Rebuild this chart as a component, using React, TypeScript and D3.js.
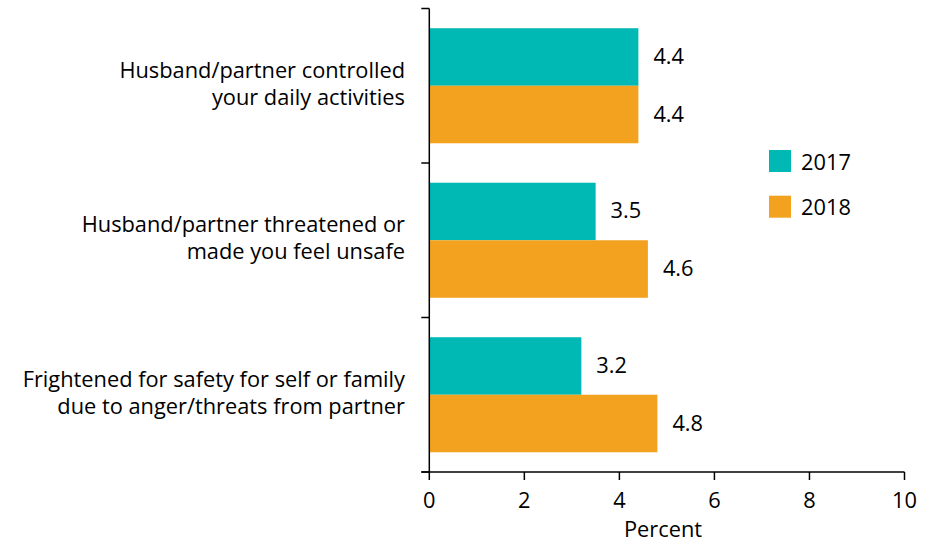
import React from "react";
import * as d3 from "d3";

const categories = [
  ["Husband/partner controlled", "your daily activities"],
  ["Husband/partner threatened or", "made you feel unsafe"],
  ["Frightened for safety for self or family", "due to anger/threats from partner"],
];
const years = ["2017", "2018"];
const values2017 = [4.4, 3.5, 3.2];
const values2018 = [4.4, 4.6, 4.8];
const xTicks = [0, 2, 4, 6, 8, 10];
const colors = ["#00B8B4", "#F3A220"];

const W = 930;
const H = 544;
const FONT = "'Open Sans', Lato, sans-serif";
const FS = 21.8;

export default function App() {
  const x = d3.scaleLinear().domain([0, 10]).range([429.3, 904.5]);
  const y = d3.scaleBand<number>().domain([0, 1, 2]).range([8.5, 472]).padding(0);
  const sub = d3
    .scaleBand<string>()
    .domain(years)
    .range([0, y.bandwidth()])
    .paddingInner(0)
    .paddingOuter(0.343);
  const series = [values2017, values2018];
  const x0 = x(0);
  const yBottom = y.range()[1];
  const yTop = y.range()[0];
  const tickEdges = [0, 1, 2].map((i) => y(i)!).concat([yBottom]);

  return (
    <svg width={W} height={H} style={{ position: "absolute", left: 0, top: 0, background: "#fff" }}>
      <g fontFamily={FONT} fill="#000">
        {series.map((vals, s) =>
          vals.map((v, i) => (
            <rect
              key={`b${s}-${i}`}
              x={x0}
              y={y(i)! + sub(years[s])!}
              width={x(v) - x0}
              height={sub.bandwidth()}
              fill={colors[s]}
            />
          ))
        )}
        {series.map((vals, s) =>
          vals.map((v, i) => (
            <text
              key={`l${s}-${i}`}
              x={x(v) + 15}
              y={y(i)! + sub(years[s])! + sub.bandwidth() / 2 + 7}
              fontSize={FS}
            >
              {v.toFixed(1)}
            </text>
          ))
        )}
        <line x1={x0} x2={x0} y1={yTop} y2={yBottom} stroke="#000" strokeWidth={1.5} />
        <line x1={x0 - 8} x2={x(10)} y1={yBottom} y2={yBottom} stroke="#000" strokeWidth={1.5} />
        {tickEdges.map((t, i) => (
          <line key={`yt${i}`} x1={x0 - 8} x2={x0} y1={t} y2={t} stroke="#000" strokeWidth={1.5} />
        ))}
        {xTicks.map((t) => (
          <g key={`xt${t}`}>
            <line x1={x(t)} x2={x(t)} y1={yBottom} y2={yBottom + 8} stroke="#000" strokeWidth={1.5} />
            <text x={x(t)} y={508} textAnchor="middle" fontSize={FS}>
              {t}
            </text>
          </g>
        ))}
        <text x={663} y={537} textAnchor="middle" fontSize={FS}>
          Percent
        </text>
        {categories.map((lines, i) => {
          const c = y(i)! + y.bandwidth() / 2;
          return (
            <text key={`c${i}`} x={405} textAnchor="end" fontSize={FS}>
              {lines.map((ln, j) => (
                <tspan key={j} x={405} y={c + (j - 0.5) * 27 + 5.5}>
                  {ln}
                </tspan>
              ))}
            </text>
          );
        })}
        {years.map((yr, s) => (
          <g key={`lg${yr}`}>
            <rect x={769} y={150 + s * 45.7} width={22} height={22} fill={colors[s]} />
            <text x={801} y={169.5 + s * 45.7} fontSize={FS}>
              {yr}
            </text>
          </g>
        ))}
      </g>
    </svg>
  );
}
